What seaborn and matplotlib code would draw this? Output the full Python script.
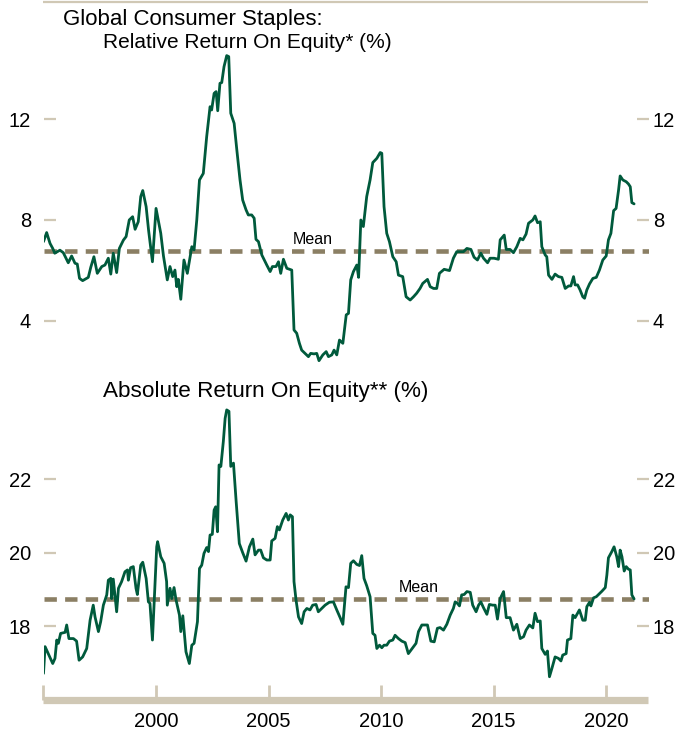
import numpy as np
import pandas as pd
import seaborn as sns
import matplotlib.pyplot as plt

# relative ROE (top panel)
rel_years = [1995.00, 1995.14, 1995.29, 1995.41, 1995.50, 1995.73, 1995.88, 1996.10, 1996.25, 1996.40,
             1996.50, 1996.60, 1996.74, 1996.99, 1997.10, 1997.24, 1997.39, 1997.59, 1997.73, 1997.88,
             1997.99, 1998.10, 1998.25, 1998.37, 1998.55, 1998.67, 1998.81, 1998.96, 1999.07, 1999.21,
             1999.32, 1999.41, 1999.56, 1999.67, 1999.84, 2000.00, 2000.21, 2000.33, 2000.50, 2000.62,
             2000.74, 2000.84, 2000.92, 2000.99, 2001.10, 2001.24, 2001.39, 2001.59, 2001.69, 2001.81,
             2001.93, 2002.10, 2002.25, 2002.40, 2002.47, 2002.58, 2002.67, 2002.74, 2002.84, 2002.92,
             2003.02, 2003.14, 2003.23, 2003.32, 2003.47, 2003.59, 2003.73, 2003.85, 2004.00, 2004.10,
             2004.25, 2004.36, 2004.44, 2004.55, 2004.70, 2004.92, 2005.07, 2005.17, 2005.33, 2005.44,
             2005.54, 2005.66, 2005.81, 2006.03, 2006.13, 2006.25, 2006.37, 2006.47, 2006.62, 2006.77,
             2006.87, 2007.02, 2007.14, 2007.24, 2007.41, 2007.56, 2007.66, 2007.81, 2007.91, 2008.03,
             2008.15, 2008.30, 2008.45, 2008.55, 2008.65, 2008.77, 2008.92, 2009.00, 2009.10, 2009.21,
             2009.36, 2009.51, 2009.63, 2009.81, 2009.96, 2010.03, 2010.13, 2010.25, 2010.37, 2010.52,
             2010.67, 2010.77, 2010.96, 2011.11, 2011.29, 2011.44, 2011.58, 2011.73, 2011.85, 2012.06,
             2012.18, 2012.33, 2012.47, 2012.59, 2012.80, 2013.04, 2013.21, 2013.36, 2013.66, 2013.81,
             2013.99, 2014.13, 2014.28, 2014.43, 2014.55, 2014.73, 2014.84, 2015.02, 2015.21, 2015.29,
             2015.47, 2015.56, 2015.73, 2015.88, 2016.03, 2016.18, 2016.30, 2016.44, 2016.55, 2016.74,
             2016.84, 2016.95, 2017.07, 2017.14, 2017.29, 2017.36, 2017.44, 2017.59, 2017.73, 2017.88,
             2018.03, 2018.18, 2018.33, 2018.43, 2018.55, 2018.62, 2018.73, 2018.84, 2018.96, 2019.04,
             2019.14, 2019.26, 2019.41, 2019.56, 2019.70, 2019.85, 2020.00, 2020.10, 2020.21, 2020.33,
             2020.44, 2020.55, 2020.62, 2020.74, 2020.89, 2020.99, 2021.07, 2021.14, 2021.24]
rel_values = [7.14, 7.50, 7.07, 6.87, 6.68, 6.80, 6.70, 6.30, 6.57, 6.28,
              6.25, 5.68, 5.59, 5.72, 6.12, 6.54, 5.88, 6.15, 6.21, 6.48,
              5.85, 6.68, 5.91, 6.87, 7.20, 7.34, 8.00, 8.13, 7.63, 7.93,
              8.93, 9.17, 8.53, 7.58, 6.34, 8.46, 7.47, 6.57, 5.62, 6.15,
              5.75, 6.01, 5.35, 5.64, 4.85, 6.41, 5.88, 6.94, 6.81, 8.00,
              9.59, 9.85, 11.31, 12.50, 12.37, 13.03, 13.10, 12.34, 13.43, 13.46,
              14.09, 14.53, 14.49, 12.24, 11.84, 10.78, 9.60, 8.79, 8.40, 8.20,
              8.20, 8.07, 7.23, 7.14, 6.61, 6.21, 5.95, 6.15, 6.15, 6.34,
              5.88, 6.44, 6.08, 6.01, 3.63, 3.50, 3.10, 2.83, 2.70, 2.57,
              2.70, 2.68, 2.70, 2.41, 2.64, 2.77, 2.57, 2.64, 2.83, 2.64,
              3.23, 3.10, 4.23, 4.29, 5.62, 5.95, 6.21, 5.72, 8.00, 7.74,
              8.93, 9.59, 10.28, 10.45, 10.68, 10.65, 8.53, 7.47, 7.14, 6.54,
              6.34, 5.81, 5.75, 4.95, 4.82, 4.95, 5.09, 5.28, 5.48, 5.64,
              5.35, 5.28, 5.28, 5.88, 6.04, 5.99, 6.48, 6.74, 6.74, 6.87,
              6.83, 6.52, 6.41, 6.68, 6.48, 6.30, 6.48, 6.48, 6.44, 7.21,
              7.40, 6.83, 6.83, 6.70, 6.94, 7.27, 7.21, 7.44, 7.87, 8.00,
              8.16, 7.89, 7.93, 6.94, 6.61, 6.54, 5.81, 5.64, 5.85, 5.75,
              5.72, 5.28, 5.38, 5.38, 5.75, 5.42, 5.42, 5.22, 4.95, 4.89,
              5.22, 5.46, 5.68, 5.72, 6.01, 6.41, 6.57, 7.21, 7.47, 8.37,
              8.46, 9.19, 9.75, 9.59, 9.52, 9.43, 9.32, 8.69, 8.64]
rel_mean = 6.78

# absolute ROE (bottom panel)
abs_years = [1995.00, 1995.07, 1995.21, 1995.41, 1995.51, 1995.59, 1995.66, 1995.76, 1995.96, 1996.03,
             1996.13, 1996.33, 1996.47, 1996.58, 1996.74, 1996.92, 1997.07, 1997.21, 1997.29, 1997.44,
             1997.54, 1997.66, 1997.81, 1997.88, 1997.99, 1998.03, 1998.10, 1998.25, 1998.33, 1998.47,
             1998.62, 1998.73, 1998.77, 1998.87, 1998.99, 1999.11, 1999.17, 1999.32, 1999.41, 1999.56,
             1999.66, 1999.73, 1999.84, 1999.91, 2000.03, 2000.07, 2000.21, 2000.36, 2000.47, 2000.50,
             2000.62, 2000.70, 2000.80, 2000.89, 2001.04, 2001.10, 2001.19, 2001.33, 2001.48, 2001.59,
             2001.69, 2001.84, 2001.93, 2002.03, 2002.13, 2002.25, 2002.33, 2002.40, 2002.50, 2002.58,
             2002.65, 2002.73, 2002.80, 2002.88, 2002.99, 2003.07, 2003.14, 2003.24, 2003.32, 2003.44,
             2003.56, 2003.70, 2003.85, 2004.00, 2004.15, 2004.30, 2004.40, 2004.55, 2004.65, 2004.77,
             2004.92, 2005.07, 2005.14, 2005.29, 2005.39, 2005.48, 2005.63, 2005.78, 2005.88, 2005.96,
             2006.06, 2006.13, 2006.22, 2006.33, 2006.47, 2006.58, 2006.70, 2006.84, 2006.96, 2007.11,
             2007.21, 2007.36, 2007.51, 2007.70, 2007.88, 2008.03, 2008.18, 2008.30, 2008.44, 2008.55,
             2008.65, 2008.77, 2008.92, 2009.04, 2009.14, 2009.24, 2009.36, 2009.51, 2009.63, 2009.73,
             2009.81, 2009.93, 2010.03, 2010.13, 2010.25, 2010.37, 2010.52, 2010.62, 2010.77, 2010.92,
             2011.07, 2011.21, 2011.32, 2011.44, 2011.55, 2011.66, 2011.81, 2011.96, 2012.06, 2012.21,
             2012.36, 2012.50, 2012.62, 2012.77, 2012.92, 2013.07, 2013.21, 2013.29, 2013.39, 2013.48,
             2013.58, 2013.69, 2013.81, 2013.96, 2014.07, 2014.22, 2014.33, 2014.43, 2014.55, 2014.70,
             2014.81, 2014.96, 2015.07, 2015.17, 2015.29, 2015.44, 2015.56, 2015.73, 2015.88, 2016.03,
             2016.18, 2016.33, 2016.44, 2016.59, 2016.74, 2016.84, 2016.95, 2017.07, 2017.14, 2017.29,
             2017.39, 2017.48, 2017.59, 2017.73, 2017.88, 2017.99, 2018.07, 2018.22, 2018.28, 2018.43,
             2018.52, 2018.62, 2018.81, 2018.96, 2019.07, 2019.14, 2019.26, 2019.32, 2019.44, 2019.56,
             2019.66, 2019.81, 2019.96, 2020.03, 2020.10, 2020.25, 2020.35, 2020.47, 2020.55, 2020.62,
             2020.70, 2020.80, 2020.89, 2020.99, 2021.07, 2021.14, 2021.24]
abs_values = [16.71, 17.44, 17.25, 16.98, 17.12, 17.62, 17.53, 17.80, 17.83, 18.03,
              17.66, 17.66, 17.59, 17.07, 17.16, 17.39, 18.16, 18.57, 18.25, 17.85,
              18.12, 18.57, 18.85, 19.25, 19.30, 18.75, 19.28, 18.39, 19.03, 19.21,
              19.48, 19.53, 19.25, 19.59, 19.62, 19.03, 18.86, 19.66, 19.74, 19.30,
              18.66, 18.62, 17.62, 18.57, 20.16, 20.30, 19.89, 19.71, 19.21, 18.57,
              19.03, 18.75, 19.05, 18.71, 18.30, 17.85, 18.28, 17.30, 16.98, 17.48,
              17.53, 18.12, 19.57, 19.66, 19.98, 20.14, 20.03, 20.48, 20.50, 21.16,
              21.25, 20.57, 22.39, 22.35, 23.03, 23.66, 23.89, 23.85, 22.35, 22.44,
              21.39, 20.25, 20.00, 19.77, 20.16, 20.37, 19.94, 20.07, 20.07, 19.86,
              19.80, 19.80, 20.32, 20.39, 20.71, 20.62, 20.89, 21.07, 20.89, 21.03,
              20.98, 19.21, 18.71, 18.25, 18.07, 18.39, 18.48, 18.44, 18.57, 18.59,
              18.39, 18.48, 18.57, 18.65, 18.66, 18.44, 18.23, 18.05, 19.07, 19.05,
              19.71, 19.78, 19.68, 19.65, 19.92, 19.30, 19.10, 18.80, 17.80, 17.75,
              17.39, 17.48, 17.41, 17.48, 17.48, 17.59, 17.62, 17.75, 17.66, 17.59,
              17.55, 17.25, 17.34, 17.44, 17.53, 17.85, 18.03, 18.03, 18.03, 17.59,
              17.57, 17.94, 17.96, 17.89, 18.05, 18.30, 18.48, 18.66, 18.62, 18.55,
              18.85, 18.86, 18.94, 18.92, 18.57, 18.39, 18.57, 18.66, 18.50, 18.32,
              18.59, 18.57, 18.57, 18.19, 18.75, 18.94, 18.23, 18.23, 17.89, 18.05,
              17.66, 17.71, 17.89, 18.03, 17.95, 18.35, 18.12, 18.14, 17.39, 17.23,
              17.32, 16.62, 16.85, 17.16, 17.12, 17.05, 17.21, 17.25, 17.62, 17.66,
              18.30, 18.23, 18.44, 18.16, 18.16, 18.53, 18.65, 18.55, 18.77, 18.80,
              18.86, 18.95, 19.05, 19.39, 19.86, 20.03, 20.16, 19.89, 19.62, 20.07,
              19.89, 19.50, 19.62, 19.55, 19.53, 18.85, 18.74]
abs_mean = 18.75

rel_ticks = [4, 8, 12]
abs_ticks = [18, 20, 22]
year_ticks = [1995, 2000, 2005, 2010, 2015, 2020]
year_labels = ["", "2000", "2005", "2010", "2015", "2020"]

GREEN = "#005a3c"
TAUPE = "#8b7f64"
BEIGE = "#d0c8b5"

sns.set_style("white")
plt.rcParams["font.family"] = ["Liberation Sans", "DejaVu Sans"]
plt.rcParams["text.color"] = "black"
plt.rcParams["xtick.labelcolor"] = "black"
plt.rcParams["ytick.labelcolor"] = "black"

fig = plt.figure(figsize=(6.86, 7.36), dpi=100)
ax1 = fig.add_axes([43.5 / 686, 1 - 370 / 736, 605 / 686, 368.5 / 736])
ax2 = fig.add_axes([43.5 / 686, 1 - 699.5 / 736, 605 / 686, 317.5 / 736])

rel_df = pd.DataFrame({"year": rel_years, "roe": rel_values})
abs_df = pd.DataFrame({"year": abs_years, "roe": abs_values})

sns.lineplot(data=rel_df, x="year", y="roe", ax=ax1, color=GREEN, lw=2.0)
sns.lineplot(data=abs_df, x="year", y="roe", ax=ax2, color=GREEN, lw=2.0)

for ax, m in [(ax1, rel_mean), (ax2, abs_mean)]:
    ax.axhline(m, color=TAUPE, lw=3.3, dashes=(2.7, 1.8), zorder=1)

ax1.annotate("Mean", (2006.98, rel_mean), xytext=(0, 4.5), textcoords="offset points",
             ha="center", va="baseline", fontsize=11.5)
ax2.annotate("Mean", (2011.67, abs_mean), xytext=(0, 4.5), textcoords="offset points",
             ha="center", va="baseline", fontsize=11.5)

ax1.set_ylim(2.04, 16.68)
ax2.set_ylim(16.0, 24.65)
for ax, ticks in [(ax1, rel_ticks), (ax2, abs_ticks)]:
    ax.set_xlim(1995.0, 2021.88)
    ax.set_xlabel("")
    ax.set_ylabel("")
    for s in ("left", "right"):
        ax.spines[s].set_visible(False)
    ax.set_yticks(ticks)
    ax.tick_params(axis="y", direction="in", length=8.5, width=1.6, left=True,
                   color=BEIGE, labelsize=14.5, pad=9)
    # right hand axis with the same scale, labels a bit closer to the edge
    rx = ax.twinx()
    rx.set_ylim(ax.get_ylim())
    rx.set_yticks(ticks)
    for s in rx.spines.values():
        s.set_visible(False)
    rx.tick_params(axis="y", direction="in", length=8.5, width=1.6, right=True,
                   color=BEIGE, labelsize=14.5, pad=3)

ax1.spines["bottom"].set_visible(False)
ax1.spines["top"].set_color(BEIGE)
ax1.spines["top"].set_linewidth(1.6)
ax1.spines["top"].set_capstyle("butt")
ax1.set_xticks([])

ax2.spines["top"].set_visible(False)
ax2.spines["bottom"].set_color(BEIGE)
ax2.spines["bottom"].set_linewidth(5.2)
ax2.spines["bottom"].set_capstyle("butt")
ax2.set_xticks(year_ticks)
ax2.set_xticklabels(year_labels)
ax2.tick_params(axis="x", direction="in", length=10.5, width=2.0, color=BEIGE,
                bottom=True, labelsize=14.5, pad=9)

fig.text(63 / 686, 1 - 9 / 736, "Global Consumer Staples:", fontsize=16, va="top")
fig.text(103 / 686, 1 - 33 / 736, "Relative Return On Equity* (%)", fontsize=15, va="top")
fig.text(103 / 686, 1 - 381 / 736, "Absolute Return On Equity** (%)", fontsize=16.2, va="top")

fig.savefig("out.png", dpi=100)
